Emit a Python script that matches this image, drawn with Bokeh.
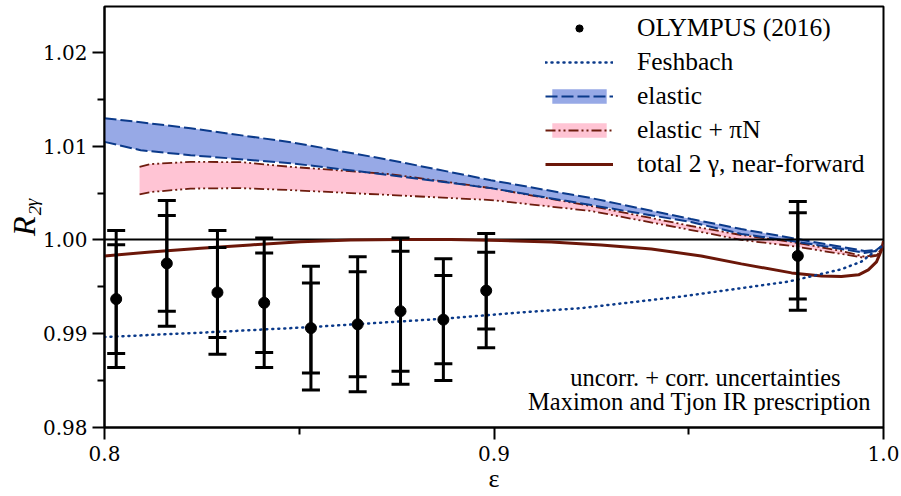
import numpy as np
from bokeh.plotting import figure
from bokeh.models import (ColumnDataSource, Whisker, TeeHead, FixedTicker, PrintfTickFormatter,
                          Legend, LegendItem, Label)
from bokeh.embed import file_html
from bokeh.resources import INLINE

# ---------------- data ----------------
olympus_eps = [0.803, 0.816, 0.829, 0.841, 0.853, 0.865, 0.876, 0.887, 0.898, 0.978]
olympus_R = [0.9937, 0.9975, 0.9944, 0.9933, 0.9906, 0.9910, 0.9924, 0.9915, 0.9946, 0.9983]
olympus_err_uncorr = [0.0058, 0.0051, 0.0048, 0.0053, 0.0048, 0.0056, 0.0064, 0.0047, 0.0041, 0.0046]
olympus_err_total = [0.0073, 0.0067, 0.0066, 0.0069, 0.0066, 0.0072, 0.0078, 0.0065, 0.0061, 0.0058]

feshbach_eps = [0.8000, 0.8247, 0.8530, 0.8871, 0.9069, 0.9224, 0.9481, 0.9635, 0.9756,
                0.9892, 0.9943, 0.9977, 0.9995, 1.0000]
feshbach_R = [0.98965, 0.99011, 0.99071, 0.99160, 0.99227, 0.99273, 0.99397, 0.99486, 0.99556,
              0.99688, 0.99769, 0.99876, 0.99929, 0.99968]

elastic_eps = [0.8000, 0.8093, 0.8221, 0.8478, 0.8735, 0.8992, 0.9249, 0.9506, 0.9635,
               0.9764, 0.9892, 0.9951, 0.9982, 1.0000]
elastic_hi = [1.01298, 1.01255, 1.01191, 1.01043, 1.00851, 1.00638, 1.00447, 1.00223, 1.00117,
              1.00021, 0.99926, 0.99883, 0.99894, 0.99950]
elastic_lo = [1.01046, 1.00957, 1.00904, 1.00819, 1.00691, 1.00553, 1.00372, 1.00191, 1.00064,
              0.99989, 0.99904, 0.99862, 0.99883, 0.99950]

pin_eps = [0.8090, 0.8118, 0.8221, 0.8350, 0.8478, 0.8735, 0.8992, 0.9249, 0.9506, 0.9635,
           0.9764, 0.9892, 0.9951, 0.9982, 1.0000]
pin_hi = [1.00780, 1.00809, 1.00833, 1.00830, 1.00780, 1.00702, 1.00553, 1.00362, 1.00149,
          1.00053, 0.99979, 0.99883, 0.99822, 0.99840, 0.99936]
pin_lo = [1.00486, 1.00511, 1.00548, 1.00553, 1.00532, 1.00479, 1.00426, 1.00309, 1.00106,
          1.00000, 0.99936, 0.99851, 0.99809, 0.99830, 0.99936]

total_eps = [0.8000, 0.8118, 0.8247, 0.8375, 0.8504, 0.8632, 0.8761, 0.8889, 0.9018, 0.9147,
             0.9275, 0.9404, 0.9532, 0.9635, 0.9764, 0.9841, 0.9892, 0.9936, 0.9961, 0.9982,
             0.9995, 1.0000]
total_R = [0.99830, 0.99872, 0.99912, 0.99947, 0.99982, 1.00000, 1.00005, 1.00005, 0.99995,
           0.99979, 0.99947, 0.99904, 0.99830, 0.99745, 0.99649, 0.99617, 0.99610, 0.99628,
           0.99681, 0.99766, 0.99894, 0.99989]

unity = [1.0]

x_ticks = [0.8, 0.9, 1.0]
x_minor = [0.85, 0.95]
y_ticks = [0.98, 0.99, 1.00, 1.01, 1.02]
y_minor = [0.985, 0.995, 1.005, 1.015]

legend_labels = ["OLYMPUS (2016)", "Feshbach", "elastic", "elastic + \u03c0N",
                 "total 2 \u03b3, near-forward"]
note_lines = ["uncorr. + corr. uncertainties", "Maximon and Tjon IR prescription"]
x_title = "\u03b5"
y_title = "R\u2082\u1d67"

# ---------------- style ----------------
FONT = "Liberation Serif"
AXFONT = "'Liberation Serif'"
TICKFONT = "DejaVu Serif"
BLUE_FILL = "#97a9e6"
PINK = "#ffc4d4"
DBLUE = "#0b3a8a"
BROWN = "#6e1c0e"
BROWN2 = "#6b1709"

p = figure(width=901, height=496, x_range=(0.8, 1.0), y_range=(0.98, 1.0249),
           output_backend="svg", toolbar_location=None,
           min_border_left=104, min_border_right=18, min_border_top=6, min_border_bottom=69)
p.background_fill_color = "white"
p.border_fill_color = "white"
p.xgrid.visible = False
p.ygrid.visible = False
p.outline_line_color = "black"
p.outline_line_width = 2
p.outline_line_alpha = 1

p.xaxis.ticker = FixedTicker(ticks=x_ticks, minor_ticks=x_minor)
p.yaxis.ticker = FixedTicker(ticks=y_ticks, minor_ticks=y_minor)
p.xaxis.formatter = PrintfTickFormatter(format="%.1f")
p.yaxis.formatter = PrintfTickFormatter(format="%.2f")
for ax in list(p.xaxis) + list(p.yaxis):
    ax.axis_line_width = 2
    ax.axis_line_color = "black"
    ax.major_tick_line_width = 2
    ax.minor_tick_line_width = 2
    ax.major_tick_line_color = "black"
    ax.minor_tick_line_color = "black"
    ax.major_tick_out = 12
    ax.major_tick_in = 0
    ax.minor_tick_out = 7
    ax.minor_tick_in = 0
    ax.major_label_text_font = TICKFONT
    ax.major_label_text_font_style = "normal"
    ax.major_label_text_font_size = "20px"
    ax.major_label_text_color = "black"
    ax.axis_label_text_font = AXFONT
    ax.axis_label_text_color = "black"
    ax.axis_label_text_font_style = "normal"
p.xaxis.major_label_standoff = 6
p.yaxis.major_label_standoff = 5
p.xaxis.axis_label = x_title
p.xaxis.axis_label_text_font_size = "26px"
p.xaxis.axis_label_standoff = 0
p.yaxis.axis_label = y_title
p.yaxis.axis_label_text_font_size = "32px"
p.yaxis.axis_label_text_font_style = "italic"
p.yaxis.axis_label_standoff = -2

# bands
r_pn = p.varea(x=pin_eps, y1=pin_lo, y2=pin_hi, fill_color=PINK)
r_el = p.varea(x=elastic_eps, y1=elastic_lo, y2=elastic_hi, fill_color=BLUE_FILL)
r_pn_hi = p.line(pin_eps, pin_hi, line_color=BROWN, line_width=1.8, line_dash="10 3 2 3 2 3")
r_pn_lo = p.line(pin_eps, pin_lo, line_color=BROWN, line_width=1.8, line_dash="10 3 2 3 2 3")
r_el_hi = p.line(elastic_eps, elastic_hi, line_color=DBLUE, line_width=2, line_dash="12 4")
r_el_lo = p.line(elastic_eps, elastic_lo, line_color=DBLUE, line_width=2, line_dash="12 4")

p.hspan(y=unity, line_color="black", line_width=2)

r_tot = p.line(total_eps, total_R, line_color=BROWN2, line_width=3)
r_fesh = p.line(feshbach_eps, feshbach_R, line_color=DBLUE, line_width=2.5,
                line_dash="1 5", line_cap="round")

# data with error bars
src = ColumnDataSource(dict(
    x=olympus_eps, y=olympus_R,
    lo_in=[r - e for r, e in zip(olympus_R, olympus_err_uncorr)],
    hi_in=[r + e for r, e in zip(olympus_R, olympus_err_uncorr)],
    lo_out=[r - e for r, e in zip(olympus_R, olympus_err_total)],
    hi_out=[r + e for r, e in zip(olympus_R, olympus_err_total)],
))
for lo, hi in (("lo_out", "hi_out"), ("lo_in", "hi_in")):
    w = Whisker(base="x", lower=lo, upper=hi, source=src, line_width=3, line_color="black",
                upper_head=TeeHead(size=18, line_width=3, line_color="black"),
                lower_head=TeeHead(size=18, line_width=3, line_color="black"),
                level="glyph")
    p.add_layout(w)
r_pts = p.scatter("x", "y", source=src, size=11, color="black")

legend = Legend(items=[
    LegendItem(label=legend_labels[0], renderers=[r_pts]),
    LegendItem(label=legend_labels[1], renderers=[r_fesh]),
    LegendItem(label=legend_labels[2], renderers=[r_el, r_el_hi]),
    LegendItem(label=legend_labels[3], renderers=[r_pn, r_pn_hi]),
    LegendItem(label=legend_labels[4], renderers=[r_tot]),
], location=(441, 246))
legend.label_text_font = FONT
legend.label_text_font_size = "25.5px"
legend.label_text_color = "black"
legend.glyph_width = 68
legend.glyph_height = 18
legend.label_standoff = 24
legend.label_height = 34
legend.spacing = 0
legend.padding = 0
legend.margin = 0
legend.border_line_alpha = 0
legend.background_fill_alpha = 0
p.add_layout(legend)

# notes
p.add_layout(Label(x=601, y=50, x_units="screen", y_units="screen", text=note_lines[0],
                   text_font=FONT, text_font_size="24.5px", text_align="center",
                   text_baseline="alphabetic", text_color="black"))
p.add_layout(Label(x=595, y=26, x_units="screen", y_units="screen", text=note_lines[1],
                   text_font=FONT, text_font_size="24.5px", text_align="center",
                   text_baseline="alphabetic", text_color="black"))

open("out.html", "w").write(file_html(p, INLINE))
